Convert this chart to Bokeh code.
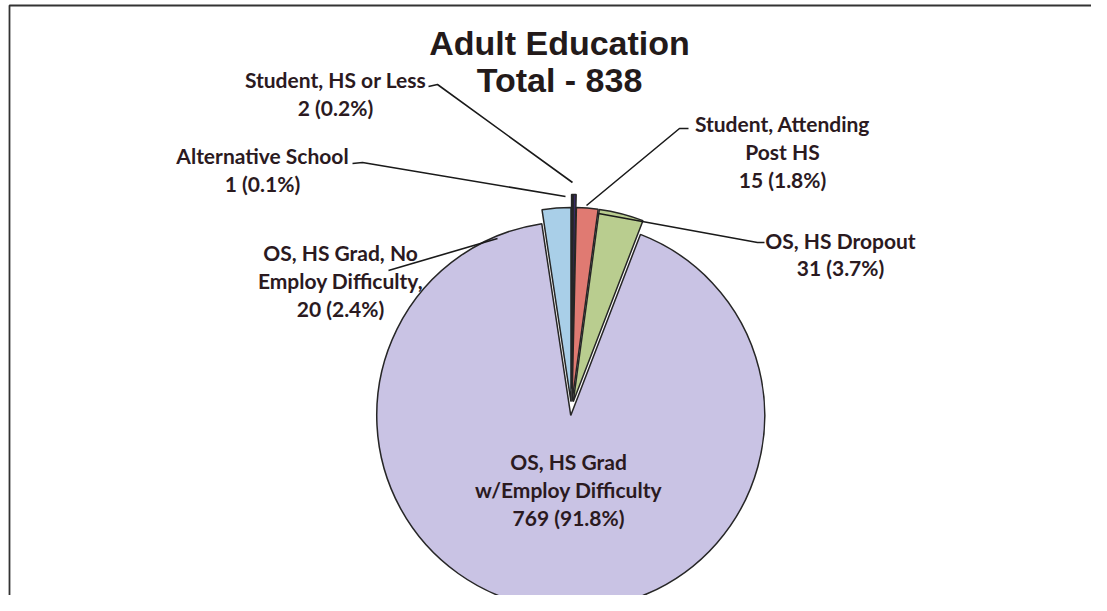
import math
from bokeh.plotting import figure
from bokeh.models import Range1d
from bokeh.core.properties import value
from bokeh.embed import file_html
from bokeh.resources import INLINE

# ---- data ----
categories = ["Alternative School", "Student, HS or Less", "Student, Attending Post HS",
              "OS, HS Dropout", "OS, HS Grad w/Employ Difficulty",
              "OS, HS Grad, No Employ Difficulty"]
counts = [1, 2, 15, 31, 769, 20]
percents = ["0.1%", "0.2%", "1.8%", "3.7%", "91.8%", "2.4%"]
label_lines = [
    ["Alternative School", "1 (0.1%)"],
    ["Student, HS or Less", "2 (0.2%)"],
    ["Student, Attending", "Post HS", "15 (1.8%)"],
    ["OS, HS Dropout", "31 (3.7%)"],
    ["OS, HS Grad", "w/Employ Difficulty", "769 (91.8%)"],
    ["OS, HS Grad, No", "Employ Difficulty,", "20 (2.4%)"],
]
colors = ["#1f2a5c", "#3a2a66", "#e07a72", "#b9cd8f", "#c9c3e4", "#a9cfe8"]
title_lines = ["Adult Education", "Total - 838"]

# ---- layout (reference pixel coordinates; y measured downward) ----
W, H = 1091, 595
def Y(py):
    return 611 - py

cx, cy, R = 571, 408, 194
explode = [20, 20, 7, 7, 7, 7]
label_pos = [(262, [162, 190]), (335, [86, 114]), (782, [130, 158, 186]),
             (840, [247, 274]), (568, [468, 496, 524]), (340, [259, 287, 315])]
leaders = [
    [(352, 163), (362, 162), (565, 196)],
    [(428, 86), (437, 84), (572, 182)],
    [(688, 128), (679, 128), (586, 205)],
    [(764, 242), (757, 242), (598, 213)],
    None,
    [(388, 270), (497, 238)],
]
LABEL_SIZE = 21
TITLE_SIZE = 34

p = figure(width=W, height=H, output_backend="svg", toolbar_location=None,
           x_range=Range1d(0, W), y_range=Range1d(611 - H, 611),
           x_axis_type=None, y_axis_type=None, min_border=0)
p.grid.visible = False
p.outline_line_color = None
p.background_fill_color = "white"
p.border_fill_color = "white"

# chart frame (left and top edges visible in the reference)
p.line([9, 9, 1100], [Y(611), Y(5), Y(5)], line_color="#333333", line_width=1.8)

total = sum(counts)
cum = 0.0
for i, c in enumerate(counts):
    a0 = cum / total * 360.0
    cum += c
    a1 = cum / total * 360.0
    mid = math.radians(90 - (a0 + a1) / 2)
    ox = cx + explode[i] * math.cos(mid)
    oy = Y(cy) + explode[i] * math.sin(mid)
    p.wedge(x=ox, y=oy, radius=R,
            start_angle=math.radians(90 - a1), end_angle=math.radians(90 - a0),
            direction="anticlock", fill_color=colors[i],
            line_color="#262626", line_width=1.5)

lab_off = 0.33 * LABEL_SIZE
for i, lines in enumerate(label_lines):
    x, ys = label_pos[i]
    for t, yy in zip(lines, ys):
        p.text(x=[x], y=[Y(yy - lab_off)], text=[t], text_align="center",
               text_baseline="alphabetic", text_font=value("Lato"),
               text_font_style="bold", text_font_size=f"{LABEL_SIZE}px",
               text_color="#2b1a1f")
    if leaders[i]:
        xs = [pt[0] for pt in leaders[i]]
        ys2 = [Y(pt[1]) for pt in leaders[i]]
        p.line(xs, ys2, line_color="#1a1a1a", line_width=1.6)

tit_off = 0.38 * TITLE_SIZE
for t, yy in zip(title_lines, [55, 92]):
    p.text(x=[559], y=[Y(yy - tit_off)], text=[t], text_align="center",
           text_baseline="alphabetic", text_font=value("Liberation Sans"),
           text_font_style="bold", text_font_size=f"{TITLE_SIZE}px",
           text_color="#231a1a")

open("out.html", "w").write(file_html(p, INLINE))
